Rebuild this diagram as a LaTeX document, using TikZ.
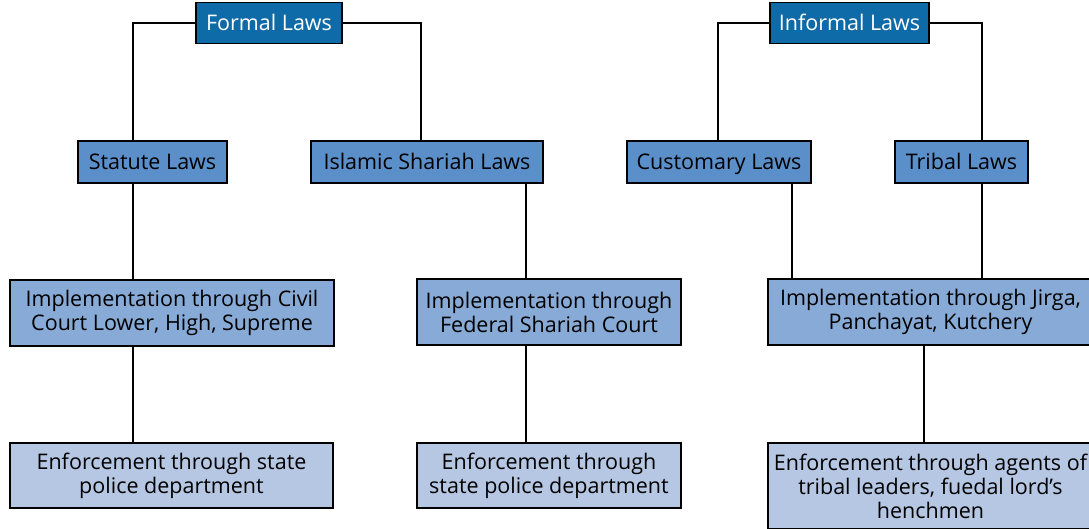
\documentclass[tikz,border=0pt]{standalone}
\usepackage{fontspec}
\setmainfont{Open Sans}
\usetikzlibrary{calc}
\definecolor{lawdark}{HTML}{0F6BA8}
\definecolor{lawmid}{HTML}{5A8FCA}
\definecolor{lawimpl}{HTML}{87AAD6}
\definecolor{lawenf}{HTML}{B6C7E3}
\begin{document}
\begin{tikzpicture}[x=1pt,y=-1pt,line width=1.2pt]
    % `toplaw' is used for the two headings (formal, informal).
    % `kindlaw' is used for the four kinds of law.
    % `implbox' and `enfbox' are the two lower rows.
    \tikzstyle{anybox} = [draw,inner sep=2pt,align=center,font=\fontsize{21.5}{24}\selectfont]
    \tikzstyle{oneline} = [anybox,text height=17.5pt,text depth=3pt]
    \tikzstyle{toplaw} = [oneline,fill=lawdark,text=white,minimum height=41]
    \tikzstyle{kindlaw} = [oneline,fill=lawmid,minimum height=42]
    \tikzstyle{implbox} = [anybox,fill=lawimpl,minimum height=66]
    \tikzstyle{enfbox} = [anybox,fill=lawenf,minimum height=65]
    \useasboundingbox (0,0) rectangle (1089,528);
    %
    \node[toplaw,minimum width=146] (formal) at (269,23) {Formal Laws};
    \node[toplaw,minimum width=159] (informal) at (849.5,23) {Informal Laws};
    %
    \node[kindlaw,minimum width=149] (statute) at (152.5,162) {Statute Laws};
    \node[kindlaw,minimum width=232] (islamic) at (427,162) {Islamic Shariah Laws};
    \node[kindlaw,minimum width=184] (customary) at (719,162) {Customary Laws};
    \node[kindlaw,minimum width=133] (tribal) at (961.5,162) {Tribal Laws};
    %
    \node[implbox,minimum width=324] (implcivil) at (172,313)
      {Implementation through Civil\\Court Lower, High, Supreme};
    \node[implbox,minimum width=264] (implfed) at (549,312)
      {Implementation through\\Federal Shariah Court};
    \node[implbox,minimum width=325] (impljirga) at (930.5,312)
      {Implementation through Jirga,\\Panchayat, Kutchery};
    %
    \node[enfbox,minimum width=323] (enfcivil) at (171.5,475.5)
      {Enforcement through state\\police department};
    \node[enfbox,minimum width=264] (enffed) at (549,475.5)
      {Enforcement through\\state police department};
    \node[enfbox,minimum width=325,minimum height=86] (enfjirga) at (930.5,486)
      {Enforcement through agents of\\tribal leaders, fuedal lord's\\henchmen};
    %
    % Columns of the vertical lines.
    \coordinate (colA) at (133,0);
    \coordinate (colB) at (421,0);
    \coordinate (colC) at (526,0);
    \coordinate (colD) at (718,0);
    \coordinate (colE) at (792,0);
    \coordinate (colF) at (982,0);
    \coordinate (colG) at (924,0);
    % Draw lines.
    \draw (formal.west) -| (statute.north -| colA);
    \draw (formal.east) -| (islamic.north -| colB);
    \draw (informal.west) -| (customary.north -| colD);
    \draw (informal.east) -| (tribal.north -| colF);
    \draw (statute.south -| colA) -- (implcivil.north -| colA);
    \draw (implcivil.south -| colA) -- (enfcivil.north -| colA);
    \draw (islamic.south -| colC) -- (implfed.north -| colC);
    \draw (implfed.south -| colC) -- (enffed.north -| colC);
    \draw (customary.south -| colE) -- (impljirga.north -| colE);
    \draw (tribal.south -| colF) -- (impljirga.north -| colF);
    \draw (impljirga.south -| colG) -- (enfjirga.north -| colG);
\end{tikzpicture}
\end{document}
